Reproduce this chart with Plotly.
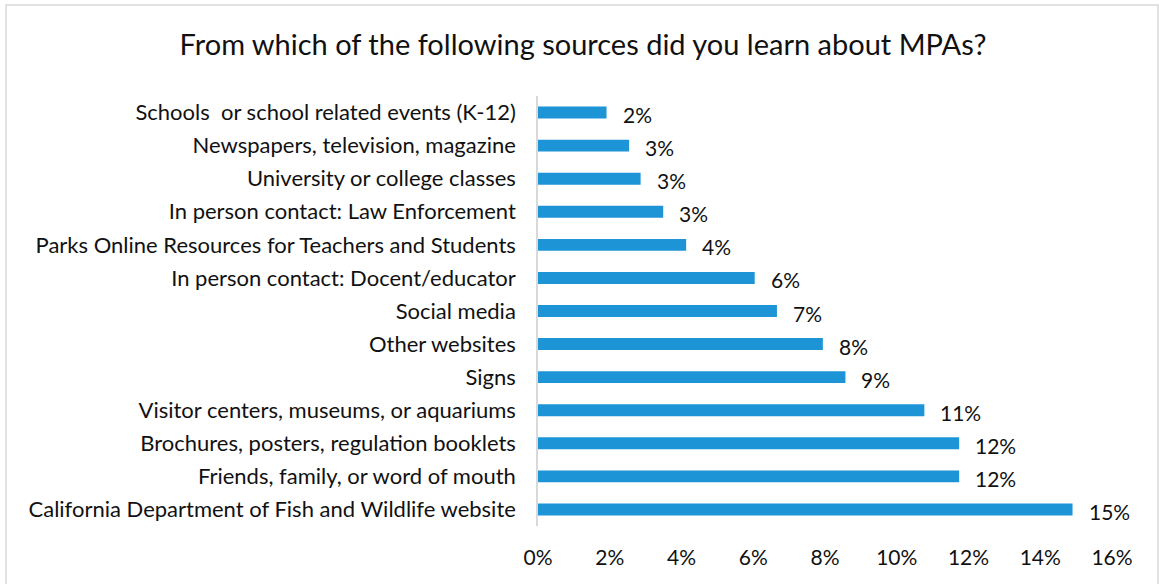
import plotly.graph_objects as go

# Survey responses: share of respondents per information source (top to bottom)
sources = [
    "Schools  or school related events (K-12)",
    "Newspapers, television, magazine",
    "University or college classes",
    "In person contact: Law Enforcement",
    "Parks Online Resources for Teachers and Students",
    "In person contact: Docent/educator",
    "Social media",
    "Other websites",
    "Signs",
    "Visitor centers, museums, or aquariums",
    "Brochures, posters, regulation booklets",
    "Friends, family, or word of mouth",
    "California Department of Fish and Wildlife website",
]
shares = [0.0191, 0.0254, 0.0286, 0.0349, 0.0413, 0.0604, 0.0666,
          0.0794, 0.0857, 0.1077, 0.1174, 0.1174, 0.1490]
x_ticks = [0, 0.02, 0.04, 0.06, 0.08, 0.10, 0.12, 0.14, 0.16]

W, H = 1159, 584
M_L, M_R, M_T, M_B = 538, 47, 96, 58
FONT = "Lato"
BAR_COLOR = "#1c94d6"
TEXT_COLOR = "#111111"

fig = go.Figure(
    go.Bar(
        x=shares,
        y=sources,
        orientation="h",
        marker=dict(color=BAR_COLOR, line=dict(width=0)),
        hovertemplate="%{y}: %{x:.1%}<extra></extra>",
    )
)

# value labels just past the end of each bar
for s, v in zip(sources, shares):
    fig.add_annotation(
        x=v, y=s, xref="x", yref="y",
        text=f"{v:.0%}", showarrow=False,
        xanchor="left", yanchor="middle",
        xshift=14, yshift=-2,
        font=dict(family=FONT, size=21, color=TEXT_COLOR),
    )

# thin grey frame around the whole chart area
pw = W - M_L - M_R
ph = H - M_T - M_B
fig.add_shape(
    type="rect", xref="paper", yref="paper",
    x0=(6 - M_L) / pw, x1=(1158 - M_L) / pw,
    y0=-(H + 10 - (H - M_B)) / ph, y1=1 + (M_T - 5) / ph,
    line=dict(color="#d9d9d9", width=1.5),
    fillcolor="rgba(0,0,0,0)", layer="below",
)

fig.update_layout(
    width=W, height=H,
    margin=dict(l=M_L, r=M_R, t=M_T, b=M_B, autoexpand=False),
    paper_bgcolor="white", plot_bgcolor="white",
    bargap=0.64,
    showlegend=False,
    title=dict(
        text="From which of the following sources did you learn about MPAs?",
        x=583 / W, xanchor="center", y=1 - 45 / H, yanchor="middle",
        font=dict(family=FONT, size=29, color=TEXT_COLOR),
    ),
    font=dict(family=FONT, color=TEXT_COLOR),
)

fig.update_xaxes(
    range=[0, 0.16], tickvals=x_ticks, tickformat=".0%",
    showgrid=False, zeroline=False, showline=False,
    ticks="", ticklabelstandoff=17,
    tickfont=dict(family=FONT, size=21, color=TEXT_COLOR),
)
fig.update_yaxes(
    categoryorder="array", categoryarray=sources[::-1],
    autorange=False, range=[-0.5, len(sources) - 0.5],
    showgrid=False, zeroline=False,
    showline=True, linecolor="#d9d9d9", linewidth=1.5,
    ticks="", ticklabelstandoff=16,
    tickfont=dict(family=FONT, size=22, color=TEXT_COLOR),
)

fig.write_html("out.html")
